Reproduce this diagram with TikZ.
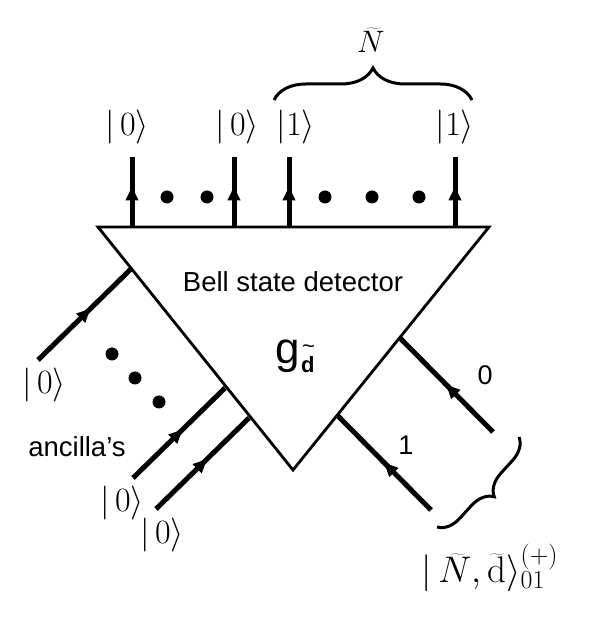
\RequirePackage{fix-cm}
\documentclass[tikz,border=0pt]{standalone}
\usepackage{fontspec}
\newfontfamily\sansf{Liberation Sans}
\usetikzlibrary{arrows.meta,decorations.markings,decorations.pathreplacing}
\tikzset{
  wire/.style={line width=5pt,
    decoration={markings,mark=at position #1 with {\arrow{Triangle[length=14pt,width=12pt]}}},
    postaction=decorate},
  wire/.default=0.56,
  boxline/.style={line width=2.8pt,line join=miter},
  blob/.style={circle,fill=black,inner sep=0pt,minimum size=13pt},
  ket/.style={inner sep=0pt,font=\fontsize{34}{40}\selectfont},
  lab/.style={inner sep=0pt,font=\sansf\fontsize{27}{30}\selectfont},
  biglab/.style={inner sep=0pt,font=\sansf\fontsize{27.5}{32}\selectfont},
  bracestyle/.style={line width=3pt,decorate,decoration={brace,amplitude=#1}}
}
\begin{document}
\begin{tikzpicture}[x=1pt,y=1pt]
\useasboundingbox (0,0) rectangle (588,628);
% triangle
\coordinate (A) at (98,401);
\coordinate (B) at (489,401);
\coordinate (C) at (293,158);
% top wires
\coordinate (t1b) at (132,401); \coordinate (t1t) at (132,471);
\coordinate (t2b) at (234,401); \coordinate (t2t) at (234,471);
\coordinate (t3b) at (289,401); \coordinate (t3t) at (289,471);
\coordinate (t4b) at (455,401); \coordinate (t4t) at (455,471);
\foreach \i in {1,2,3,4}{\draw[wire=0.58] (t\i b) -- (t\i t);}
\node[blob] (d1) at (167,431) {};
\node[blob] (d2) at (207,431) {};
\node[blob] (d3) at (325,431) {};
\node[blob] (d4) at (372,431) {};
\node[blob] (d5) at (419,431) {};
\node[ket] (k1) at (127,501) {$|\,0\rangle$};
\node[ket] (k2) at (237,501) {$|\,0\rangle$};
\node[ket] (k3) at (296,501) {$|1\rangle$};
\node[ket] (k4) at (455,501) {$|1\rangle$};
\coordinate (bl) at (274,528); \coordinate (br) at (472,528);
\draw[bracestyle=32] (bl) -- (br);
\node[inner sep=0pt,font=\fontsize{31}{34}\selectfont] (Nt) at (371,588) {$\widetilde{N}$};
% left wires
\coordinate (l1s) at (38,268);  \coordinate (l1e) at (132,360);
\coordinate (l2s) at (133,150); \coordinate (l2e) at (225,240);
\coordinate (l3s) at (156,119); \coordinate (l3e) at (249,210);
\draw[wire=0.56] (l1s) -- (l1e);
\draw[wire=0.54] (l2s) -- (l2e);
\draw[wire=0.55] (l3s) -- (l3e);
\node[blob] (e1) at (112,274) {};
\node[blob] (e2) at (135,250) {};
\node[blob] (e3) at (159,226) {};
\node[ket] (a1) at (44,243) {$|\,0\rangle$};
\node[biglab] (anc) at (77,181) {ancilla’s};
\node[ket] (a2) at (122,125) {$|\,0\rangle$};
\node[ket] (a3) at (162,93) {$|\,0\rangle$};
% right wires
\coordinate (r0s) at (493,196); \coordinate (r0e) at (399,291);
\coordinate (r1s) at (431,118); \coordinate (r1e) at (337,213);
\draw[wire=0.5] (r0s) -- (r0e);
\draw[wire=0.5] (r1s) -- (r1e);
\node[lab] (z0) at (485,253) {0};
\node[lab] (z1) at (406,183) {1};
\coordinate (rb1) at (519,191); \coordinate (rb2) at (437,101);
\draw[bracestyle=22] (rb1) -- (rb2);
\node[inner sep=0pt,font=\fontsize{37}{42}\selectfont] (st) at (490,60) {$|\,\widetilde{N},\widetilde{\mathrm{d}}\rangle^{(+)}_{01}$};
% triangle outline
\draw[boxline,fill=white] (A) -- (B) -- (C) -- cycle;
\foreach \i in {1,2,3,4}{\draw[line width=5pt] (t\i b) -- ++(0,4);}
\node[biglab] (bsd) at (293,346) {Bell state detector};
\node[inner sep=0pt,anchor=base west,font=\sansf\fontsize{44}{48}\selectfont] (g) at (275,264) {g};
\node[inner sep=0pt,anchor=base west,font=\sansf\bfseries\fontsize{22}{24}\selectfont] (gd) at (301,255) {d};
\node[inner sep=0pt,font=\sansf\fontsize{22}{24}\selectfont] (gt) at (308.5,279) {\~{}};
\end{tikzpicture}
\end{document}
